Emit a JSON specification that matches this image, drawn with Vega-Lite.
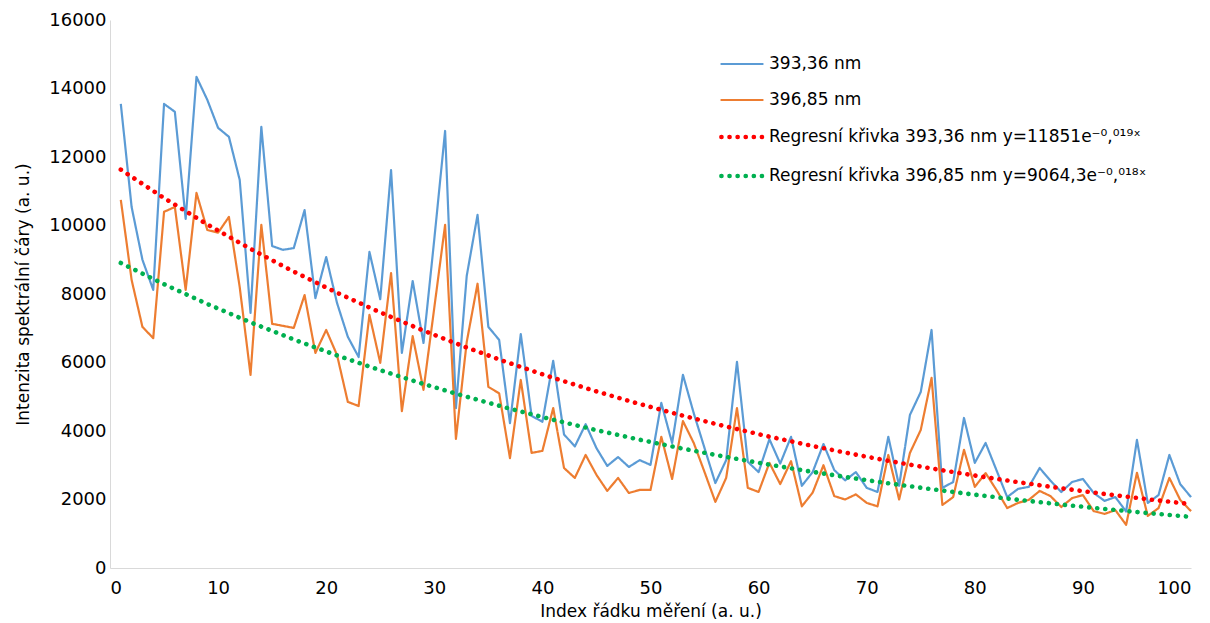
{
  "$schema": "https://vega.github.io/schema/vega-lite/v6.json",
  "width": 1081,
  "height": 548,
  "autosize": {"type": "none"},
  "padding": {"left": 110, "top": 20, "right": 19, "bottom": 55},
  "background": "white",
  "config": {
    "font": "DejaVu Sans",
    "view": {"stroke": null},
    "axis": {"grid": false, "ticks": false, "domainColor": "#d9d9d9", "domainWidth": 1, "labelFontSize": 18, "labelColor": "#000000", "titleFontSize": 17, "titleFontWeight": "normal", "titleColor": "#000000", "labelFont": "DejaVu Sans", "titleFont": "DejaVu Sans"}
  },
  "data": {"values": [
    {"x":1,"s":"393,36 nm","v":13550},{"x":2,"s":"393,36 nm","v":10540},{"x":3,"s":"393,36 nm","v":9000},{"x":4,"s":"393,36 nm","v":8120},{"x":5,"s":"393,36 nm","v":13550},
    {"x":6,"s":"393,36 nm","v":13320},{"x":7,"s":"393,36 nm","v":10190},{"x":8,"s":"393,36 nm","v":14340},{"x":9,"s":"393,36 nm","v":13670},{"x":10,"s":"393,36 nm","v":12850},
    {"x":11,"s":"393,36 nm","v":12590},{"x":12,"s":"393,36 nm","v":11330},{"x":13,"s":"393,36 nm","v":7450},{"x":14,"s":"393,36 nm","v":12880},{"x":15,"s":"393,36 nm","v":9400},
    {"x":16,"s":"393,36 nm","v":9290},{"x":17,"s":"393,36 nm","v":9340},{"x":18,"s":"393,36 nm","v":10450},{"x":19,"s":"393,36 nm","v":7880},{"x":20,"s":"393,36 nm","v":9080},
    {"x":21,"s":"393,36 nm","v":7740},{"x":22,"s":"393,36 nm","v":6750},{"x":23,"s":"393,36 nm","v":6160},{"x":24,"s":"393,36 nm","v":9230},{"x":25,"s":"393,36 nm","v":7850},
    {"x":26,"s":"393,36 nm","v":11620},{"x":27,"s":"393,36 nm","v":6280},{"x":28,"s":"393,36 nm","v":8380},{"x":29,"s":"393,36 nm","v":6570},{"x":30,"s":"393,36 nm","v":9600},
    {"x":31,"s":"393,36 nm","v":12760},{"x":32,"s":"393,36 nm","v":4670},{"x":33,"s":"393,36 nm","v":8530},{"x":34,"s":"393,36 nm","v":10310},{"x":35,"s":"393,36 nm","v":7040},
    {"x":36,"s":"393,36 nm","v":6660},{"x":37,"s":"393,36 nm","v":4230},{"x":38,"s":"393,36 nm","v":6830},{"x":39,"s":"393,36 nm","v":4440},{"x":40,"s":"393,36 nm","v":4270},
    {"x":41,"s":"393,36 nm","v":6050},{"x":42,"s":"393,36 nm","v":3900},{"x":43,"s":"393,36 nm","v":3550},{"x":44,"s":"393,36 nm","v":4200},{"x":45,"s":"393,36 nm","v":3500},
    {"x":46,"s":"393,36 nm","v":2980},{"x":47,"s":"393,36 nm","v":3240},{"x":48,"s":"393,36 nm","v":2950},{"x":49,"s":"393,36 nm","v":3150},{"x":50,"s":"393,36 nm","v":3010},
    {"x":51,"s":"393,36 nm","v":4820},{"x":52,"s":"393,36 nm","v":3650},{"x":53,"s":"393,36 nm","v":5640},{"x":54,"s":"393,36 nm","v":4520},{"x":55,"s":"393,36 nm","v":3500},
    {"x":56,"s":"393,36 nm","v":2480},{"x":57,"s":"393,36 nm","v":3150},{"x":58,"s":"393,36 nm","v":6020},{"x":59,"s":"393,36 nm","v":3100},{"x":60,"s":"393,36 nm","v":2800},
    {"x":61,"s":"393,36 nm","v":3760},{"x":62,"s":"393,36 nm","v":3050},{"x":63,"s":"393,36 nm","v":3830},{"x":64,"s":"393,36 nm","v":2400},{"x":65,"s":"393,36 nm","v":2800},
    {"x":66,"s":"393,36 nm","v":3620},{"x":67,"s":"393,36 nm","v":2860},{"x":68,"s":"393,36 nm","v":2560},{"x":69,"s":"393,36 nm","v":2800},{"x":70,"s":"393,36 nm","v":2340},
    {"x":71,"s":"393,36 nm","v":2220},{"x":72,"s":"393,36 nm","v":3830},{"x":73,"s":"393,36 nm","v":2400},{"x":74,"s":"393,36 nm","v":4470},{"x":75,"s":"393,36 nm","v":5140},
    {"x":76,"s":"393,36 nm","v":6950},{"x":77,"s":"393,36 nm","v":2340},{"x":78,"s":"393,36 nm","v":2510},{"x":79,"s":"393,36 nm","v":4380},{"x":80,"s":"393,36 nm","v":3070},
    {"x":81,"s":"393,36 nm","v":3650},{"x":82,"s":"393,36 nm","v":2860},{"x":83,"s":"393,36 nm","v":2070},{"x":84,"s":"393,36 nm","v":2310},{"x":85,"s":"393,36 nm","v":2370},
    {"x":86,"s":"393,36 nm","v":2920},{"x":87,"s":"393,36 nm","v":2550},{"x":88,"s":"393,36 nm","v":2220},{"x":89,"s":"393,36 nm","v":2510},{"x":90,"s":"393,36 nm","v":2600},
    {"x":91,"s":"393,36 nm","v":2190},{"x":92,"s":"393,36 nm","v":1960},{"x":93,"s":"393,36 nm","v":2070},{"x":94,"s":"393,36 nm","v":1650},{"x":95,"s":"393,36 nm","v":3740},
    {"x":96,"s":"393,36 nm","v":1900},{"x":97,"s":"393,36 nm","v":2130},{"x":98,"s":"393,36 nm","v":3300},{"x":99,"s":"393,36 nm","v":2450},{"x":100,"s":"393,36 nm","v":2070},
    {"x":1,"s":"396,85 nm","v":10750},{"x":2,"s":"396,85 nm","v":8410},{"x":3,"s":"396,85 nm","v":7040},{"x":4,"s":"396,85 nm","v":6710},{"x":5,"s":"396,85 nm","v":10400},
    {"x":6,"s":"396,85 nm","v":10540},{"x":7,"s":"396,85 nm","v":8120},{"x":8,"s":"396,85 nm","v":10950},{"x":9,"s":"396,85 nm","v":9870},{"x":10,"s":"396,85 nm","v":9790},
    {"x":11,"s":"396,85 nm","v":10250},{"x":12,"s":"396,85 nm","v":8200},{"x":13,"s":"396,85 nm","v":5640},{"x":14,"s":"396,85 nm","v":10020},{"x":15,"s":"396,85 nm","v":7130},
    {"x":16,"s":"396,85 nm","v":7070},{"x":17,"s":"396,85 nm","v":7010},{"x":18,"s":"396,85 nm","v":7970},{"x":19,"s":"396,85 nm","v":6280},{"x":20,"s":"396,85 nm","v":6950},
    {"x":21,"s":"396,85 nm","v":6220},{"x":22,"s":"396,85 nm","v":4850},{"x":23,"s":"396,85 nm","v":4730},{"x":24,"s":"396,85 nm","v":7390},{"x":25,"s":"396,85 nm","v":5990},
    {"x":26,"s":"396,85 nm","v":8610},{"x":27,"s":"396,85 nm","v":4580},{"x":28,"s":"396,85 nm","v":6770},{"x":29,"s":"396,85 nm","v":5200},{"x":30,"s":"396,85 nm","v":7600},
    {"x":31,"s":"396,85 nm","v":10020},{"x":32,"s":"396,85 nm","v":3770},{"x":33,"s":"396,85 nm","v":6600},{"x":34,"s":"396,85 nm","v":8300},{"x":35,"s":"396,85 nm","v":5290},
    {"x":36,"s":"396,85 nm","v":5100},{"x":37,"s":"396,85 nm","v":3210},{"x":38,"s":"396,85 nm","v":5490},{"x":39,"s":"396,85 nm","v":3360},{"x":40,"s":"396,85 nm","v":3420},
    {"x":41,"s":"396,85 nm","v":4670},{"x":42,"s":"396,85 nm","v":2920},{"x":43,"s":"396,85 nm","v":2630},{"x":44,"s":"396,85 nm","v":3300},{"x":45,"s":"396,85 nm","v":2720},
    {"x":46,"s":"396,85 nm","v":2250},{"x":47,"s":"396,85 nm","v":2630},{"x":48,"s":"396,85 nm","v":2190},{"x":49,"s":"396,85 nm","v":2280},{"x":50,"s":"396,85 nm","v":2280},
    {"x":51,"s":"396,85 nm","v":3830},{"x":52,"s":"396,85 nm","v":2600},{"x":53,"s":"396,85 nm","v":4290},{"x":54,"s":"396,85 nm","v":3650},{"x":55,"s":"396,85 nm","v":2800},
    {"x":56,"s":"396,85 nm","v":1930},{"x":57,"s":"396,85 nm","v":2630},{"x":58,"s":"396,85 nm","v":4670},{"x":59,"s":"396,85 nm","v":2340},{"x":60,"s":"396,85 nm","v":2220},
    {"x":61,"s":"396,85 nm","v":3070},{"x":62,"s":"396,85 nm","v":2450},{"x":63,"s":"396,85 nm","v":3120},{"x":64,"s":"396,85 nm","v":1800},{"x":65,"s":"396,85 nm","v":2200},
    {"x":66,"s":"396,85 nm","v":3000},{"x":67,"s":"396,85 nm","v":2100},{"x":68,"s":"396,85 nm","v":2000},{"x":69,"s":"396,85 nm","v":2150},{"x":70,"s":"396,85 nm","v":1900},
    {"x":71,"s":"396,85 nm","v":1800},{"x":72,"s":"396,85 nm","v":3300},{"x":73,"s":"396,85 nm","v":2000},{"x":74,"s":"396,85 nm","v":3360},{"x":75,"s":"396,85 nm","v":4030},
    {"x":76,"s":"396,85 nm","v":5550},{"x":77,"s":"396,85 nm","v":1840},{"x":78,"s":"396,85 nm","v":2070},{"x":79,"s":"396,85 nm","v":3450},{"x":80,"s":"396,85 nm","v":2370},
    {"x":81,"s":"396,85 nm","v":2770},{"x":82,"s":"396,85 nm","v":2280},{"x":83,"s":"396,85 nm","v":1750},{"x":84,"s":"396,85 nm","v":1900},{"x":85,"s":"396,85 nm","v":1990},
    {"x":86,"s":"396,85 nm","v":2250},{"x":87,"s":"396,85 nm","v":2100},{"x":88,"s":"396,85 nm","v":1780},{"x":89,"s":"396,85 nm","v":2040},{"x":90,"s":"396,85 nm","v":2130},
    {"x":91,"s":"396,85 nm","v":1660},{"x":92,"s":"396,85 nm","v":1580},{"x":93,"s":"396,85 nm","v":1690},{"x":94,"s":"396,85 nm","v":1260},{"x":95,"s":"396,85 nm","v":2780},
    {"x":96,"s":"396,85 nm","v":1520},{"x":97,"s":"396,85 nm","v":1750},{"x":98,"s":"396,85 nm","v":2630},{"x":99,"s":"396,85 nm","v":1990},{"x":100,"s":"396,85 nm","v":1660}
  ]},
  "encoding": {
    "x": {"field": "x", "type": "quantitative", "title": "Index řádku měření (a. u.)", "scale": {"domain": [0, 100], "nice": false, "zero": false}, "axis": {"values": [0,10,20,30,40,50,60,70,80,90,100], "labelPadding": 11, "titlePadding": 6}},
    "y": {"field": "v", "type": "quantitative", "title": "Intenzita spektrální čáry (a. u.)", "scale": {"domain": [0, 16000], "nice": false}, "axis": {"values": [0,2000,4000,6000,8000,10000,12000,14000,16000], "format": "d", "labelPadding": 4, "titlePadding": 16}},
    "color": {"field": "s", "type": "nominal", "title": null,
      "scale": {"domain": ["393,36 nm", "396,85 nm", "Regresní křivka 393,36 nm y=11851e⁻⁰,⁰¹⁹ˣ", "Regresní křivka 396,85 nm y=9064,3e⁻⁰,⁰¹⁸ˣ"], "range": ["#5B9BD5", "#ED7D31", "#FF0000", "#00B050"]},
      "legend": {"orient": "none", "legendX": 609, "legendY": 22, "symbolType": "stroke", "symbolSize": 1700, "labelFontSize": 17, "labelFont": "DejaVu Sans", "labelColor": "#000000", "labelLimit": 700, "labelOffset": 4, "rowPadding": 6,
        "encode": {"symbols": {"update": {"strokeCap": {"value": "round"}}}}}},
    "strokeDash": {"field": "s", "type": "nominal", "title": null,
      "scale": {"domain": ["393,36 nm", "396,85 nm", "Regresní křivka 393,36 nm y=11851e⁻⁰,⁰¹⁹ˣ", "Regresní křivka 396,85 nm y=9064,3e⁻⁰,⁰¹⁸ˣ"], "range": [[1, 0], [1, 0], [0.1, 8], [0.1, 8]]}},
    "strokeWidth": {"field": "s", "type": "ordinal", "title": null,
      "scale": {"type": "ordinal", "domain": ["393,36 nm", "396,85 nm", "Regresní křivka 393,36 nm y=11851e⁻⁰,⁰¹⁹ˣ", "Regresní křivka 396,85 nm y=9064,3e⁻⁰,⁰¹⁸ˣ"], "range": [2.2, 2.2, 4.6, 4.6]}}
  },
  "layer": [
    {"mark": {"type": "line", "strokeJoin": "round"}},
    {
      "transform": [
        {"calculate": "log(datum.v)", "as": "lv"},
        {"regression": "lv", "on": "x", "groupby": ["s"], "method": "poly", "order": 1, "extent": [1, 100]},
        {"calculate": "exp(datum.lv)", "as": "v"},
        {"calculate": "datum.s === '393,36 nm' ? 'Regresní křivka 393,36 nm y=11851e⁻⁰,⁰¹⁹ˣ' : 'Regresní křivka 396,85 nm y=9064,3e⁻⁰,⁰¹⁸ˣ'", "as": "s"}
      ],
      "mark": {"type": "line", "strokeCap": "round"}
    }
  ]
}
